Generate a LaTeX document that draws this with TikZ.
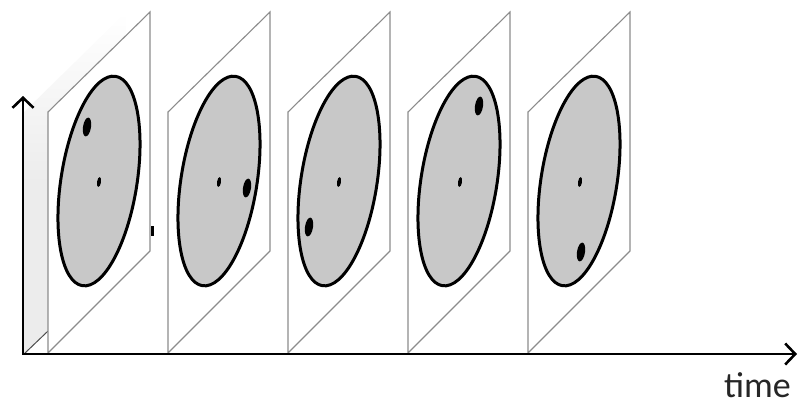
\documentclass[tikz,border=0pt]{standalone}
\usepackage{fontspec}
\setsansfont{Carlito}
\usepackage{tikz}
\usetikzlibrary{arrows.meta,shapes.geometric}
\definecolor{FrameGray}{HTML}{8C8C8C}
\definecolor{DiscGray}{HTML}{C8C8C8}
\definecolor{BackGray}{HTML}{ECECEC}
\tikzset{
  tframe/.style={
    draw=FrameGray,
    fill=white,
    line width=1.1pt,
    line join=miter
  },
  tdisc/.style={ellipse, draw=black, fill=DiscGray, line width=3pt,
    inner sep=0pt, minimum width=76pt, minimum height=212pt, rotate=-9},
  tcentre/.style={ellipse, fill=black, inner sep=0pt,
    minimum width=4pt, minimum height=10pt, rotate=-9},
  tspot/.style={ellipse, fill=black, inner sep=0pt,
    minimum width=8pt, minimum height=19pt, rotate=-9},
  taxis/.style={{Straight Barb[length=10pt,width=21pt]}-{Straight Barb[length=10pt,width=21pt]},
    line width=2.6pt, line join=miter}
}

\begin{document}
\begin{tikzpicture}[x=1pt, y=-1pt]
  \useasboundingbox (0,0) rectangle (799,405);
  % faded frame behind the first one
  \shade[top color=white, bottom color=BackGray, middle color=BackGray] (24,354) -- (24,112) -- (126,12) -- (126,250) -- cycle;
  \draw[black!70, line width=1pt] (24,354) -- (48,331);
  % frame 1
  \draw[tframe] (48,353) -- (48,112) -- (150,12) -- (150,251) -- cycle;
  \node[tdisc] (disc1) at (99,181) {};
  \node[tcentre] (centre1) at (99,182) {};
  \node[tspot] (spot1) at (87,127) {};
  \fill (151,226) rectangle (154,236);
  % frame 2
  \draw[tframe] (168,353) -- (168,112) -- (270,12) -- (270,251) -- cycle;
  \node[tdisc] (disc2) at (219,181) {};
  \node[tcentre] (centre2) at (219,182) {};
  \node[tspot] (spot2) at (247,188) {};
  % frame 3
  \draw[tframe] (288,353) -- (288,112) -- (390,12) -- (390,251) -- cycle;
  \node[tdisc] (disc3) at (339,181) {};
  \node[tcentre] (centre3) at (339,182) {};
  \node[tspot] (spot3) at (309,227) {};
  % frame 4
  \draw[tframe] (408,353) -- (408,112) -- (510,12) -- (510,251) -- cycle;
  \node[tdisc] (disc4) at (459,181) {};
  \node[tcentre] (centre4) at (460,182) {};
  \node[tspot] (spot4) at (479,106) {};
  % frame 5
  \draw[tframe] (528,353) -- (528,112) -- (630,12) -- (630,251) -- cycle;
  \node[tdisc] (disc5) at (579,181) {};
  \node[tcentre] (centre5) at (580,182) {};
  \node[tspot] (spot5) at (581,252) {};
  % axes
  \coordinate (origin) at (23,354);
  \coordinate (ytip) at (23,96);
  \coordinate (xtip) at (797,354);
  \draw[taxis] (ytip) -- (origin) -- (xtip);
  \node[anchor=base east, inner sep=0pt, text=black!85,
    font=\sffamily\fontsize{36}{40}\selectfont] (timelabel) at (791,397) {time};
\end{tikzpicture}
\end{document}
